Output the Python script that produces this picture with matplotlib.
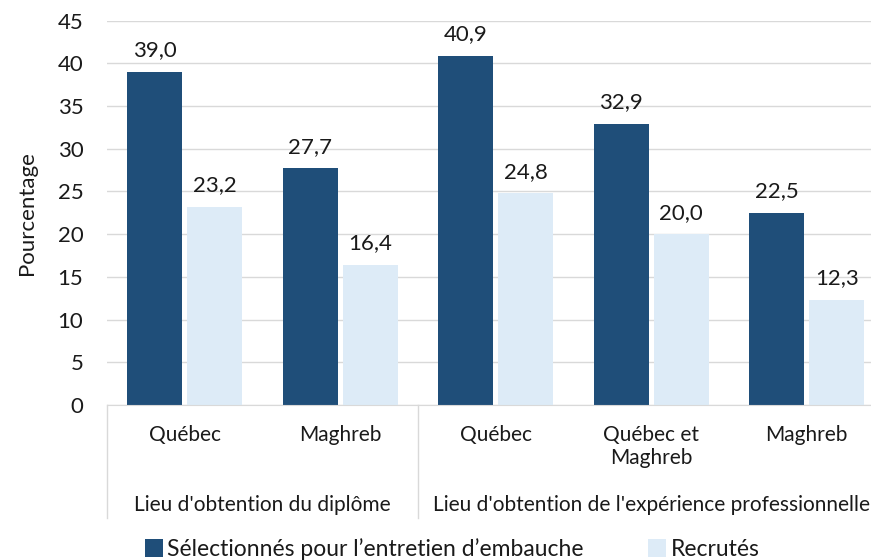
import matplotlib
matplotlib.use("Agg")
import matplotlib.pyplot as plt
from matplotlib.patches import Patch
import matplotlib.transforms as mtransforms

plt.rcParams['font.family'] = ['Lato', 'DejaVu Sans']

categories = ["Québec", "Maghreb", "Québec", "Québec et\nMaghreb", "Maghreb"]
groups = ["Lieu d'obtention du diplôme", "Lieu d'obtention de l'expérience professionnelle"]
group_sizes = [2, 3]
series_names = ["Sélectionnés pour l’entretien d’embauche", "Recrutés"]
selected = [39.0, 27.7, 40.9, 32.9, 22.5]
hired = [23.2, 16.4, 24.8, 20.0, 12.3]
yticks = [0, 5, 10, 15, 20, 25, 30, 35, 40, 45]

dark = "#1F4E79"
light = "#DDEBF7"
txt = "#1a1a1a"

W, H = 871, 560
fig = plt.figure(figsize=(W / 100, H / 100), dpi=100)
left_px, right_px, top_px, bot_px = 107, 871, 20.7, 405
axw = right_px - left_px
ax = fig.add_axes([left_px / W, 1 - bot_px / H, axw / W, (bot_px - top_px) / H])

unit = 155.5
x = list(range(len(categories)))
bw = 0.354
off = 0.193
b1 = ax.bar([i - off for i in x], selected, bw, color=dark, zorder=3)
b2 = ax.bar([i + off for i in x], hired, bw, color=light, zorder=3)

for bars, vals in ((b1, selected), (b2, hired)):
    for rect, v in zip(bars, vals):
        ax.annotate(f"{v:.1f}".replace('.', ','),
                    (rect.get_x() + rect.get_width() / 2, v),
                    xytext=(0, 15.5), textcoords='offset points',
                    ha='center', va='center', fontsize=16, color=txt)

ax.set_xlim(-0.5, -0.5 + axw / unit)
ax.set_ylim(0, 45)
ax.set_yticks(yticks)
ax.set_yticklabels([str(t) for t in yticks], fontsize=16, color=txt)
ax.tick_params(axis='y', length=0, pad=17)
ax.set_xticks([])
ax.grid(axis='y', color="#D9D9D9", linewidth=1, zorder=0)
for s in ['top', 'right', 'left']:
    ax.spines[s].set_visible(False)
ax.spines['bottom'].set_color("#D9D9D9")
ax.spines['bottom'].set_zorder(4)

ax.set_ylabel("Pourcentage", fontsize=16, color=txt)
ax.yaxis.set_label_coords((27 - left_px) / axw, 0.5)
ax.yaxis.label.set_va('center')

trans = mtransforms.blended_transform_factory(ax.transData, ax.transAxes)
axh = bot_px - top_px
def yfrac(py):
    return (bot_px - py) / axh

# multi-level axis separators
bounds = [-0.5]
acc = -0.5
for g in group_sizes:
    acc += g
    bounds.append(acc)
for bx in bounds:
    ax.plot([bx, bx], [0, yfrac(518)], transform=trans, color="#D9D9D9",
            linewidth=1, clip_on=False)

for i, c in enumerate(categories):
    ax.text(i, yfrac(425), c, transform=trans, ha='center', va='top',
            fontsize=15, color=txt, linespacing=1.2)

start = -0.5
for g, n in zip(groups, group_sizes):
    ax.text(start + n / 2, yfrac(505), g, transform=trans, ha='center', va='center',
            fontsize=15, color=txt)
    start += n

handles = [Patch(facecolor=dark), Patch(facecolor=light)]
fig.legend(handles, series_names, loc='center left', bbox_to_anchor=(145 / W, 1 - 549 / H),
           ncol=2, frameon=False, fontsize=16.5, handlelength=0.78, handleheight=0.78,
           handletextpad=0.2, columnspacing=2.8, labelcolor=txt,
           borderpad=0, borderaxespad=0)

fig.savefig("out.png", dpi=100)
